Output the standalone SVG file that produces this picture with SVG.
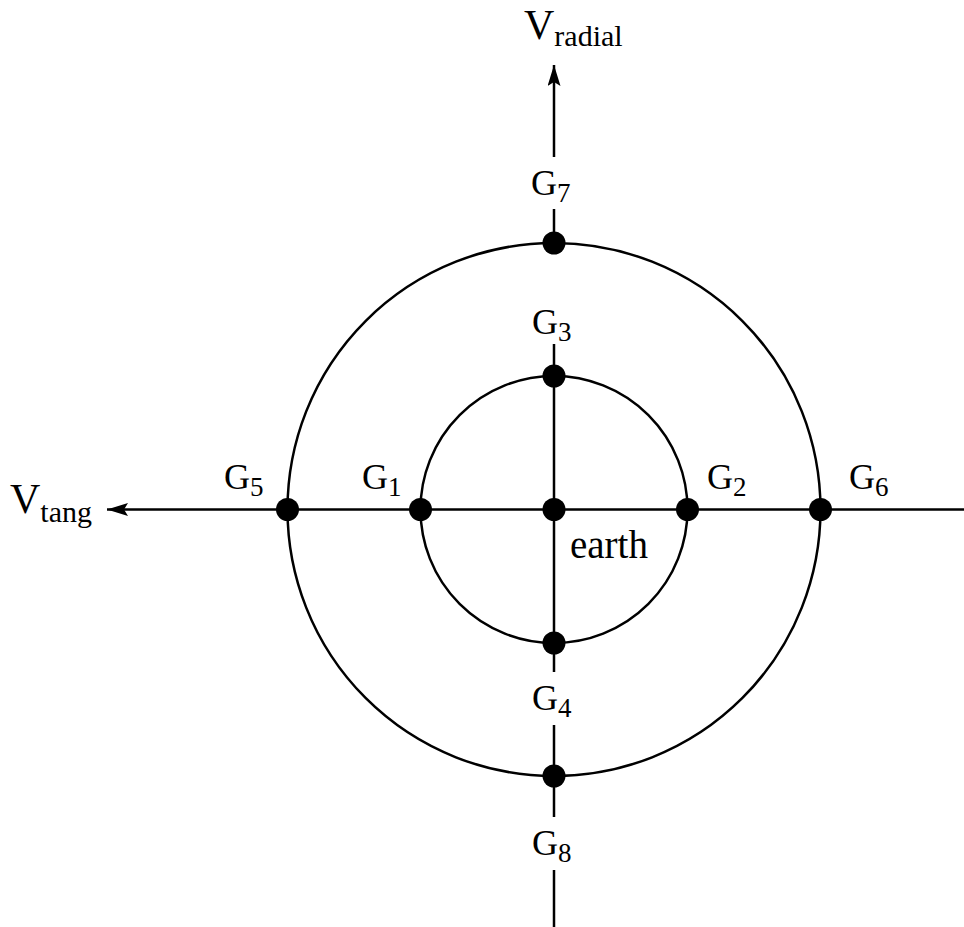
<svg xmlns="http://www.w3.org/2000/svg" width="964" height="927" viewBox="0 0 964 927">
<style>
.ln{stroke:#000;stroke-width:2.5;fill:none}
.dot{fill:#000}
text{font-family:"Liberation Serif","Times New Roman",serif;fill:#000}
.big{font-size:42px}
.lbl{font-size:36px}
.sub{font-size:27px}
.vsub{font-size:30px}
.earth{font-size:39px}
</style>
<defs>
<marker id="ah" viewBox="0 0 21 13" refX="21" refY="6.5" markerWidth="21" markerHeight="13" markerUnits="userSpaceOnUse" orient="auto">
<path d="M0,0 L21,6.5 L0,13 L4,6.5 Z" fill="#000"/>
</marker>
</defs>
<rect width="964" height="927" fill="#fff"/>
<g id="connectors">
<circle class="ln" cx="554" cy="509.5" r="266.5"/>
<circle class="ln" cx="554" cy="509.5" r="133.5"/>
<line class="ln" x1="554" y1="157" x2="554" y2="65" marker-end="url(#ah)"/>
<line class="ln" x1="554" y1="209" x2="554" y2="243"/>
<line class="ln" x1="554" y1="344" x2="554" y2="672"/>
<line class="ln" x1="554" y1="725" x2="554" y2="817"/>
<line class="ln" x1="554" y1="870" x2="554" y2="927"/>
<line class="ln" x1="964" y1="509.5" x2="107" y2="509.5" marker-end="url(#ah)"/>
</g>
<g id="earth"><circle class="dot" cx="554" cy="509.5" r="11.5"/><text x="570" y="558" class="earth">earth</text></g>
<g id="G1"><circle class="dot" cx="420.5" cy="509.5" r="11.5"/><text x="362" y="489" class="lbl">G<tspan class="sub" dy="7">1</tspan></text></g>
<g id="G2"><circle class="dot" cx="687.5" cy="509.5" r="11.5"/><text x="707" y="489" class="lbl">G<tspan class="sub" dy="7">2</tspan></text></g>
<g id="G3"><circle class="dot" cx="554" cy="376" r="11.5"/><text x="532" y="334" class="lbl">G<tspan class="sub" dy="7">3</tspan></text></g>
<g id="G4"><circle class="dot" cx="554" cy="643" r="11.5"/><text x="532" y="710" class="lbl">G<tspan class="sub" dy="7">4</tspan></text></g>
<g id="G5"><circle class="dot" cx="287.5" cy="509.5" r="11.5"/><text x="224" y="489" class="lbl">G<tspan class="sub" dy="7">5</tspan></text></g>
<g id="G6"><circle class="dot" cx="820.5" cy="509.5" r="11.5"/><text x="849" y="489" class="lbl">G<tspan class="sub" dy="7">6</tspan></text></g>
<g id="G7"><circle class="dot" cx="554" cy="243" r="11.5"/><text x="531" y="195" class="lbl">G<tspan class="sub" dy="7">7</tspan></text></g>
<g id="G8"><circle class="dot" cx="554" cy="776" r="11.5"/><text x="532" y="855" class="lbl">G<tspan class="sub" dy="7">8</tspan></text></g>
<g id="Vradial"><text x="524" y="39" class="big">V<tspan class="vsub" dy="7">radial</tspan></text></g>
<g id="Vtang"><text x="10" y="513" class="big">V<tspan class="vsub" dy="9">tang</tspan></text></g>
</svg>
